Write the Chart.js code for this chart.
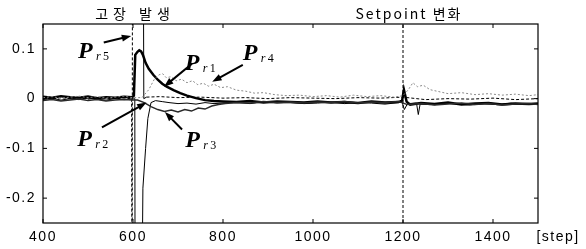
<!DOCTYPE html>
<html>
<head>
  <title>Residuals Pr1-Pr5</title>
  <script src="https://cdn.jsdelivr.net/npm/chart.js"></script>
  <style>
    body { margin: 0; background: #fff; }
    #chartContainer { width: 586px; height: 249px; }
  </style>
</head>
<body>
  <div id="chartContainer">
    <canvas id="myChart"></canvas>
  </div>

  <script>
    // axis settings
    const xMin = 400, xMax = 1500;
    const yMin = -0.25, yMax = 0.15;
    const xTicks = [400, 600, 800, 1000, 1200, 1400];
    const yTicks = [-0.2, -0.1, 0, 0.1];
    const faultStep = 600;
    const setpointStep = 1200;

    // Pr1 - thick black
    const pr1Steps = [400,420,440,460,480,500,520,540,560,580,598,602,605,610,614,618,622,628,635,645,655,665,675,690,705,720,740,760,780,800,830,860,890,920,950,980,1010,1040,1070,1100,1130,1160,1190,1198,1202,1208,1216,1240,1270,1300,1330,1360,1390,1420,1450,1480,1500];
    const pr1Vals = [0.004,0.002,0.005,0.003,0.002,0.004,0.001,0.003,0.002,0.004,0.003,0.006,0.088,0.094,0.097,0.095,0.088,0.072,0.060,0.048,0.038,0.030,0.024,0.017,0.011,0.006,0.001,-0.003,-0.005,-0.006,-0.007,-0.005,-0.008,-0.006,-0.007,-0.008,-0.006,-0.008,-0.007,-0.009,-0.006,-0.008,-0.007,-0.004,0.018,-0.006,-0.012,-0.009,-0.011,-0.008,-0.012,-0.010,-0.009,-0.012,-0.010,-0.011,-0.010];

    // Pr2 - thin black, drops off the bottom after the fault
    const pr2Steps = [400,420,440,460,480,500,520,540,560,580,598,604,605,618,622,628,633,640,650,665,680,700,720,740,760,780,800,830,860,890,920,950,980,1010,1040,1070,1100,1130,1160,1190,1198,1203,1210,1230,1234,1238,1260,1290,1320,1350,1380,1410,1440,1470,1500];
    const pr2Vals = [-0.002,0.001,-0.003,0.000,-0.002,0.001,-0.001,-0.003,0.000,-0.002,-0.001,0.000,-0.600,-0.600,-0.180,-0.100,-0.040,-0.008,-0.004,-0.006,-0.008,-0.010,-0.009,-0.011,-0.008,-0.010,-0.009,-0.008,-0.010,-0.007,-0.009,-0.008,-0.010,-0.009,-0.007,-0.010,-0.008,-0.009,-0.011,-0.008,-0.007,-0.022,-0.010,-0.009,-0.032,-0.011,-0.012,-0.009,-0.011,-0.013,-0.010,-0.012,-0.009,-0.011,-0.010];

    // Pr3 - dark, dips below zero
    const pr3Steps = [400,420,440,460,480,500,520,540,560,580,598,610,625,640,655,670,685,700,715,730,745,760,775,790,805,830,860,890,920,950,980,1010,1040,1070,1100,1130,1160,1190,1210,1240,1270,1300,1330,1360,1390,1420,1450,1480,1500];
    const pr3Vals = [-0.004,-0.002,-0.005,-0.003,-0.001,-0.004,-0.002,-0.005,-0.003,-0.002,-0.003,-0.003,-0.008,-0.016,-0.022,-0.026,-0.023,-0.027,-0.022,-0.025,-0.019,-0.021,-0.015,-0.012,-0.010,-0.008,-0.009,-0.006,-0.008,-0.007,-0.009,-0.007,-0.008,-0.006,-0.009,-0.007,-0.008,-0.006,-0.012,-0.010,-0.013,-0.011,-0.009,-0.012,-0.010,-0.013,-0.011,-0.010,-0.012];

    // Pr4 - grey dotted, slow decay
    const pr4Steps = [400,420,440,460,480,500,520,540,560,580,598,620,635,648,658,666,674,684,696,708,720,732,744,756,768,780,795,810,830,850,870,890,915,940,970,1000,1030,1060,1090,1120,1150,1180,1200,1212,1222,1232,1245,1260,1280,1300,1330,1360,1390,1420,1450,1480,1500];
    const pr4Vals = [0.002,0.004,0.001,0.003,0.005,0.002,0.004,0.001,0.003,0.005,0.002,0.002,0.018,0.040,0.048,0.050,0.042,0.044,0.036,0.039,0.032,0.036,0.028,0.031,0.025,0.029,0.022,0.024,0.017,0.015,0.011,0.012,0.008,0.006,0.007,0.004,0.006,0.003,0.007,0.004,0.006,0.003,0.006,0.018,0.032,0.024,0.027,0.018,0.014,0.010,0.012,0.008,0.010,0.007,0.009,0.006,0.008];

    // Pr5 - dashed, jumps off the top at the fault
    const pr5Steps = [400,420,440,460,480,500,520,540,560,580,597,598,599,622,624,630,660,700,750,800,850,900,950,1000,1050,1100,1150,1200,1250,1300,1350,1400,1450,1500];
    const pr5Vals = [0.001,-0.001,0.002,0.000,0.001,-0.001,0.002,0.000,0.001,-0.001,0.001,-0.600,0.600,0.600,0.000,0.003,0.004,0.002,0.003,0.001,0.002,0.000,0.002,0.001,0.000,0.002,0.001,0.003,-0.002,0.000,-0.001,0.001,-0.002,0.000];

    // P labels with arrows (data coordinates)
    const labelNames = ['5', '1', '4', '2', '3'];
    const labelPos = [[478, 0.082], [715, 0.058], [844, 0.078], [476, -0.096], [716, -0.098]];
    const arrowTail = [[535, 0.113], [731, 0.070], [844, 0.068], [531, -0.058], [709, -0.062]];
    const arrowTip = [[596, 0.126], [669, 0.024], [776, 0.034], [630, -0.008], [671, -0.027]];

    function pts(steps, vals) {
      return steps.map((s, i) => ({ x: s, y: vals[i] }));
    }

    const tickFont = { family: 'Liberation Sans, Arial', size: 14 };

    const spacingPlugin = {
      id: 'spacing',
      beforeLayout(chart) { chart.ctx.letterSpacing = '1.5px'; },
      beforeDraw(chart) { chart.ctx.letterSpacing = '1.5px'; }
    };

    const framePlugin = {
      id: 'frame',
      afterDatasetsDraw(chart) {
        const ctx = chart.ctx;
        const a = chart.chartArea;
        const xs = chart.scales.x, ys = chart.scales.y;
        ctx.save();
        ctx.strokeStyle = '#000';
        ctx.lineWidth = 1.2;
        ctx.strokeRect(a.left, a.top, a.right - a.left, a.bottom - a.top);
        ctx.lineWidth = 1;
        ctx.beginPath();
        xTicks.forEach(v => {
          const px = xs.getPixelForValue(v);
          ctx.moveTo(px, a.bottom); ctx.lineTo(px, a.bottom - 4);
          ctx.moveTo(px, a.top); ctx.lineTo(px, a.top + 4);
        });
        yTicks.forEach(v => {
          const py = ys.getPixelForValue(v);
          ctx.moveTo(a.left, py); ctx.lineTo(a.left + 4, py);
          ctx.moveTo(a.right, py); ctx.lineTo(a.right - 4, py);
        });
        ctx.stroke();

        // event titles above the plot
        ctx.fillStyle = '#000';
        ctx.textAlign = 'center';
        ctx.textBaseline = 'alphabetic';
        ctx.letterSpacing = '5px';
        ctx.font = '14px "Noto Sans CJK KR", "Liberation Sans"';
        ctx.fillText('고장 발생', xs.getPixelForValue(faultStep) + 2, 19);
        ctx.letterSpacing = '2px';
        ctx.fillText('Setpoint 변화', xs.getPixelForValue(setpointStep) + 6, 19);

        // x unit
        ctx.letterSpacing = '1.5px';
        ctx.font = '14px "Liberation Sans", Arial';
        ctx.fillText('[step]', a.right + 20, 241);

        // P labels and arrows
        ctx.letterSpacing = '0px';
        labelNames.forEach((n, i) => {
          const lx = xs.getPixelForValue(labelPos[i][0]);
          const ly = ys.getPixelForValue(labelPos[i][1]);
          ctx.textAlign = 'left';
          ctx.font = 'italic bold 24px "Liberation Serif", serif';
          ctx.fillText('P', lx, ly);
          ctx.font = 'italic 12px "Liberation Serif", serif';
          ctx.fillText('r', lx + 18, ly + 2);
          ctx.font = '12px "Liberation Serif", serif';
          ctx.fillText(n, lx + 25, ly + 2);

          const tx = xs.getPixelForValue(arrowTail[i][0]), ty = ys.getPixelForValue(arrowTail[i][1]);
          const hx = xs.getPixelForValue(arrowTip[i][0]), hy = ys.getPixelForValue(arrowTip[i][1]);
          const ang = Math.atan2(hy - ty, hx - tx);
          ctx.lineWidth = 2;
          ctx.beginPath();
          ctx.moveTo(tx, ty);
          ctx.lineTo(hx - 6 * Math.cos(ang), hy - 6 * Math.sin(ang));
          ctx.stroke();
          ctx.beginPath();
          ctx.moveTo(hx, hy);
          ctx.lineTo(hx - 10 * Math.cos(ang - 0.35), hy - 10 * Math.sin(ang - 0.35));
          ctx.lineTo(hx - 10 * Math.cos(ang + 0.35), hy - 10 * Math.sin(ang + 0.35));
          ctx.closePath();
          ctx.fill();
        });
        ctx.restore();
      }
    };

    const ctx = document.getElementById('myChart').getContext('2d');
    const myChart = new Chart(ctx, {
      type: 'line',
      data: {
        datasets: [{
          label: 'Pr4',
          data: pts(pr4Steps, pr4Vals),
          borderColor: '#8a8a8a',
          borderWidth: 1,
          borderDash: [2, 2]
        }, {
          label: 'Pr3',
          data: pts(pr3Steps, pr3Vals),
          borderColor: '#2a2a2a',
          borderWidth: 1.5
        }, {
          label: 'Pr2',
          data: pts(pr2Steps, pr2Vals),
          borderColor: '#000',
          borderWidth: 1
        }, {
          label: 'Pr5',
          data: pts(pr5Steps, pr5Vals),
          borderColor: '#000',
          borderWidth: 1,
          borderDash: [3, 2],
          segment: {
            borderDash: c => c.p0.parsed.x >= 610 && c.p0.parsed.x < 630 ? [] : undefined
          }
        }, {
          label: 'Pr1',
          data: pts(pr1Steps, pr1Vals),
          borderColor: '#000',
          borderWidth: 2.5
        }, {
          label: 'setpoint',
          data: [{ x: setpointStep, y: yMin }, { x: setpointStep, y: yMax }],
          borderColor: '#000',
          borderWidth: 1,
          borderDash: [3, 2]
        }]
      },
      options: {
        responsive: true,
        maintainAspectRatio: false,
        animation: false,
        events: [],
        layout: { padding: { top: 24, right: 48, left: 0, bottom: 0 } },
        elements: { point: { radius: 0 }, line: { tension: 0 } },
        plugins: { legend: { display: false }, tooltip: { enabled: false } },
        scales: {
          x: {
            type: 'linear',
            min: xMin,
            max: xMax,
            afterBuildTicks: s => { s.ticks = xTicks.map(v => ({ value: v })); },
            afterFit: s => { s.height = 26; },
            grid: { display: false, drawTicks: false },
            border: { display: false },
            ticks: { font: tickFont, color: '#000', padding: 6, maxRotation: 0, autoSkip: false, callback: v => String(v) }
          },
          y: {
            min: yMin,
            max: yMax,
            afterBuildTicks: s => { s.ticks = yTicks.map(v => ({ value: v })); },
            afterFit: s => { s.width = 43; },
            grid: { display: false, drawTicks: false },
            border: { display: false },
            ticks: { font: tickFont, color: '#000', padding: 7, callback: v => String(v) }
          }
        }
      },
      plugins: [spacingPlugin, framePlugin]
    });
  </script>
</body>
</html>
